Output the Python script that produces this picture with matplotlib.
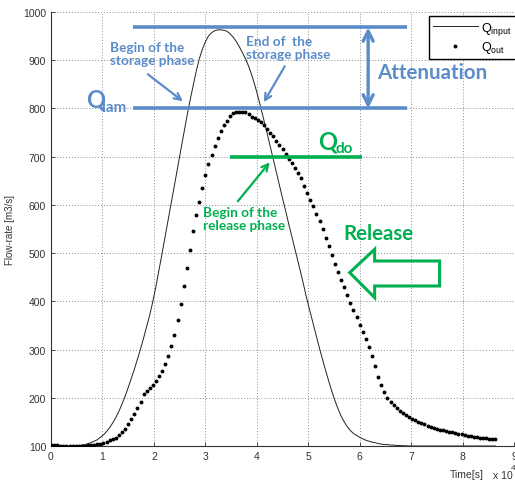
import numpy as np
import matplotlib
matplotlib.use("Agg")
import matplotlib.pyplot as plt
from matplotlib.patches import Polygon
from matplotlib.ticker import FuncFormatter, MultipleLocator

# ---- data (time step 600 s, t = 0 .. 86400 s) ----
q_input = [
    100, 100, 100, 100, 100, 100, 100, 100, 100.5, 101,
    102, 103, 105, 107, 110, 113, 118, 123, 130, 138,
    148, 159, 172, 187, 203, 221, 240, 259, 280, 301,
    324, 348, 372, 400, 431, 465, 500, 535, 570, 606,
    641, 677, 712, 747, 782, 815, 846, 876, 902, 922,
    938, 950, 957, 961, 963, 963, 962, 960, 955, 948,
    939, 928, 916, 903, 888, 870, 849, 826, 801, 775,
    749, 722, 695, 668, 641, 614, 588, 561, 535, 509,
    483, 457, 429, 402, 377, 352, 327, 302, 279, 256,
    234, 213, 194, 177, 162, 150, 140, 132, 126, 122,
    118, 115, 112, 110, 108, 107, 105, 104, 103, 103,
    102, 102, 101, 101, 100.5, 100.5, 100, 100, 100, 100,
    100, 100, 100, 100, 100, 100, 100, 100, 100, 100,
    100, 100, 100, 100, 100, 100, 100, 100, 100, 100,
    100, 100, 100, 100, 100,
]
q_out = [
    103, 102, 102, 101, 101, 100, 100, 100, 100, 100,
    101, 101, 102, 102, 103, 104, 105, 107, 109, 112,
    114, 117, 122, 128, 135, 145, 155, 167, 179, 191,
    207, 215, 221, 226, 235, 245, 255, 271, 286, 308,
    331, 361, 395, 432, 470, 507, 546, 578, 606, 634,
    661, 685, 704, 723, 739, 754, 765, 775, 784, 790,
    793, 793, 793, 792, 788, 783, 780, 776, 771, 765,
    758, 750, 742, 733, 724, 715, 706, 696, 686, 676,
    666, 655, 640, 625, 610, 597, 582, 566, 549, 531,
    514, 497, 478, 460, 445, 429, 413, 397, 382, 367,
    351, 336, 322, 305, 287, 266, 244, 226, 211, 200,
    191, 184, 178, 173, 169, 164, 160, 157, 153, 150,
    148, 145, 142, 140, 138, 136, 134, 133, 131, 129,
    128, 126, 125, 124, 122, 121, 120, 119, 118, 117,
    116, 116, 115, 114, 114,
]
dt = 600
t_in = np.arange(len(q_input)) * dt
t_out = np.arange(len(q_out)) * dt

q_top = 968      # top of attenuation
q_lam = 800      # Q_lam level
q_do = 700       # Q_do level

BLUE = '#5B8CC9'
GREEN = '#00B050'
ANN_FONT = ['Lato', 'DejaVu Sans']
TICK_FONT = ['Liberation Sans', 'DejaVu Sans']

W, H = 515, 481
fig = plt.figure(figsize=(W / 100, H / 100), dpi=100)
ax = fig.add_axes([51 / W, 1 - 447 / H, (514 - 51) / W, (447 - 13) / H])

# pixel -> data helper for annotation placement
def P(x, y):
    return ((x - 51) / 51.5 * 1e4, 100 + (446.7 - y) / 0.4822)

ax.plot(t_in, q_input, color='#222222', lw=0.7, label=r'Q$_{\mathregular{input}}$', zorder=3)
ax.plot(t_out, q_out, linestyle='none', marker='o', ms=2.8, mew=0, color='black',
        label=r'Q$_{\mathregular{out}}$', zorder=3)

ax.set_xlim(0, 90000)
ax.set_ylim(100, 1000)
ax.xaxis.set_major_locator(MultipleLocator(10000))
ax.yaxis.set_major_locator(MultipleLocator(100))
ax.xaxis.set_major_formatter(FuncFormatter(lambda v, _: f'{v / 1e4:g}'))
ax.grid(True, color='0.55', linestyle=(0, (1, 2)), lw=0.7)
for s in ['top', 'right']:
    ax.spines[s].set_visible(False)
for s in ['left', 'bottom']:
    ax.spines[s].set_color('#333333')
    ax.spines[s].set_linewidth(0.8)
ax.tick_params(direction='in', length=3, width=0.6, color='#333333',
               labelsize=7.5, labelcolor='#333333')
for lab in ax.get_xticklabels() + ax.get_yticklabels():
    lab.set_family(TICK_FONT)

ax.set_ylabel('Flow-rate [m3/s]', fontsize=7, color='#333333', family=TICK_FONT)
ax.yaxis.set_label_coords(-0.078, 0.5)
fig.text(467 / W, 1 - 475 / H, 'Time[s]', fontsize=7.5, color='#333333',
         ha='center', va='center', family=TICK_FONT)
fig.text(493 / W, 1 - 476 / H, 'x 10', fontsize=7.5, color='#333333', va='center',
         family=TICK_FONT)
fig.text(511 / W, 1 - 469 / H, '4', fontsize=6, color='#333333', va='center',
         family=TICK_FONT)

leg = ax.legend(loc='upper right', bbox_to_anchor=(1.004, 0.991), borderaxespad=0,
                fancybox=False, edgecolor='black', framealpha=1,
                handlelength=3.6, handletextpad=0.3, borderpad=0.3, labelspacing=0.2,
                prop={'family': TICK_FONT, 'size': 9})
leg.get_frame().set_linewidth(1.0)

# ---- blue annotations ----
x0, _ = P(133, 0)
x1, _ = P(407, 0)
ax.plot([x0, x1], [q_top, q_top], color=BLUE, lw=2.6, zorder=4, solid_capstyle='butt')
ax.plot([x0, x1], [q_lam, q_lam], color=BLUE, lw=2.6, zorder=4, solid_capstyle='butt')
xa, _ = P(368.5, 0)
ax.annotate('', xy=(xa, q_lam), xytext=(xa, q_top),
            arrowprops=dict(arrowstyle='<->', color=BLUE, lw=2.4, mutation_scale=18,
                            shrinkA=0, shrinkB=0), zorder=5)
ax.text(*P(377, 73), 'Attenuation', color=BLUE, fontsize=14.8, fontweight='bold',
        family=ANN_FONT, va='center', ha='left')
ax.text(*P(110, 54), 'Begin of the\nstorage phase', color=BLUE, fontsize=9.8, fontweight='bold',
        family=ANN_FONT, va='center', ha='left', linespacing=1.1)
ax.annotate('', xy=P(183, 102), xytext=P(148, 75),
            arrowprops=dict(arrowstyle='->', color=BLUE, lw=1.6, mutation_scale=12,
                            shrinkA=0, shrinkB=0))
ax.text(*P(246, 48), 'End of  the\nstorage phase', color=BLUE, fontsize=9.8, fontweight='bold',
        family=ANN_FONT, va='center', ha='left', linespacing=1.1)
ax.annotate('', xy=P(264, 103), xytext=P(285, 67),
            arrowprops=dict(arrowstyle='->', color=BLUE, lw=1.6, mutation_scale=12,
                            shrinkA=0, shrinkB=0))
ax.text(*P(86, 100), 'Q', color=BLUE, fontsize=17, fontweight='bold',
        family=ANN_FONT, va='center', ha='left')
ax.text(*P(102, 108), 'lam', color=BLUE, fontsize=11, fontweight='bold',
        family=ANN_FONT, va='center', ha='left')

# ---- green annotations ----
g0, _ = P(230, 0)
g1, _ = P(362, 0)
ax.plot([g0, g1], [q_do, q_do], color=GREEN, lw=2.6, zorder=4, solid_capstyle='butt')
ax.text(*P(318, 142), 'Q', color=GREEN, fontsize=17, fontweight='bold',
        family=ANN_FONT, va='center', ha='left')
ax.text(*P(336, 149), 'do', color=GREEN, fontsize=11, fontweight='bold',
        family=ANN_FONT, va='center', ha='left')
ax.text(*P(203, 219), 'Begin of the\nrelease phase', color=GREEN, fontsize=9.8, fontweight='bold',
        family=ANN_FONT, va='center', ha='left', linespacing=1.1)
ax.annotate('', xy=P(270, 163), xytext=P(238, 202),
            arrowprops=dict(arrowstyle='->', color=GREEN, lw=1.6, mutation_scale=12,
                            shrinkA=0, shrinkB=0))
ax.text(*P(344, 234), 'Release', color=GREEN, fontsize=14.8, fontweight='bold',
        family=ANN_FONT, va='center', ha='left')
arrow_px = [(350, 273.3), (375, 250), (375, 261.7), (440, 261.7), (440, 286.7),
            (375, 286.7), (375, 298.3)]
ax.add_patch(Polygon([P(x, y) for x, y in arrow_px], closed=True, fill=False,
                     edgecolor=GREEN, lw=2.2, joinstyle='miter', zorder=4))

fig.savefig('out.png', dpi=100)
